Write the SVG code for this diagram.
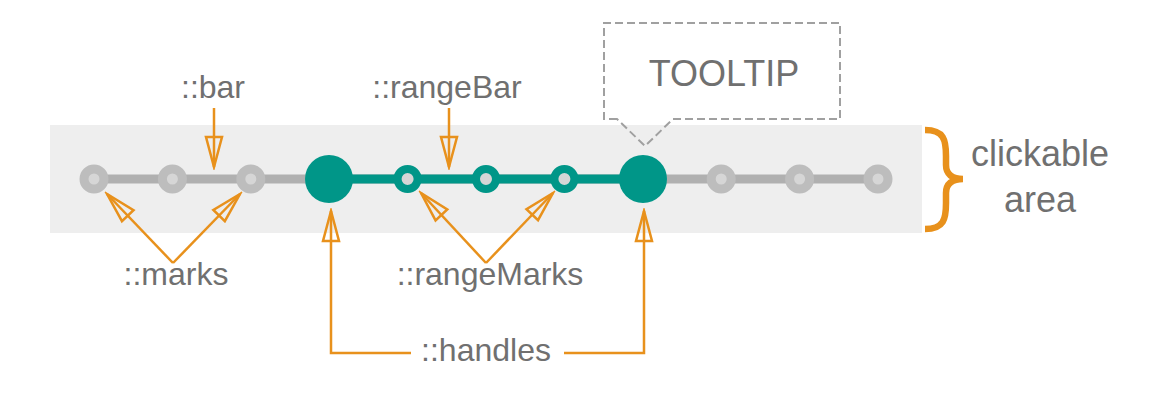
<svg xmlns="http://www.w3.org/2000/svg" width="1156" height="400" viewBox="0 0 1156 400">
<style>
.lbl{font-family:"Liberation Sans",Arial,sans-serif;font-size:32px;fill:#707070;text-anchor:middle}
.big{font-size:36px}
.conn{fill:none;stroke:#E8911C;stroke-width:2.5;stroke-linejoin:miter}
.mark{fill:#d6d6d6;stroke:#bdbdbd;stroke-width:9}
.rmark{fill:#d6d6d6;stroke:#009688;stroke-width:8}
.handle{fill:#009688}
</style>
<defs>
<marker id="ah" markerUnits="userSpaceOnUse" viewBox="0 0 36 20" markerWidth="36" markerHeight="20" refX="33" refY="10" orient="auto">
<path d="M33,10 L3,2 L3,18 Z" fill="none" stroke="#E8911C" stroke-width="2.5" stroke-linejoin="miter"/>
</marker>
</defs>
<rect width="1156" height="400" fill="#ffffff"/>
<g id="clickable-area">
<rect x="50" y="125" width="872" height="108" fill="#eeeeee"/>
<path d="M925,130 C944,130 946,140 946,156 L946,165 C946,174 952,179 963,179 C952,179 946,184 946,193 L946,203 C946,219 944,229 925,229" fill="none" stroke="#E8911C" stroke-width="6.5"/>
<text class="lbl big" x="1040" y="166">clickable</text>
<text class="lbl big" x="1040" y="212">area</text>
</g>
<g id="bar">
<line x1="94" y1="179" x2="878" y2="179" stroke="#b0b0b0" stroke-width="9"/>
</g>
<g id="rangeBar">
<line x1="329" y1="179" x2="643" y2="179" stroke="#009688" stroke-width="9"/>
</g>
<g id="marks">
<circle class="mark" cx="94" cy="179" r="10"/>
<circle class="mark" cx="172.4" cy="179" r="10"/>
<circle class="mark" cx="250.8" cy="179" r="10"/>
<circle class="mark" cx="721.2" cy="179" r="10"/>
<circle class="mark" cx="799.6" cy="179" r="10"/>
<circle class="mark" cx="878" cy="179" r="10"/>
</g>
<g id="rangeMarks">
<circle class="rmark" cx="407.6" cy="179" r="10"/>
<circle class="rmark" cx="486" cy="179" r="10"/>
<circle class="rmark" cx="564.4" cy="179" r="10"/>
</g>
<g id="handles">
<circle class="handle" cx="329" cy="179" r="24"/>
<circle class="handle" cx="643" cy="179" r="24"/>
</g>
<g id="tooltip">
<path d="M617,119 L604,119 L604,23 L840,23 L840,119 L673,119 L645,146 Z" fill="none" stroke="#a0a0a0" stroke-width="2" stroke-dasharray="8,4"/>
<text class="lbl big" x="724" y="86">TOOLTIP</text>
</g>
<g id="labels">
<text class="lbl" x="213" y="98">::bar</text>
<text class="lbl" x="447" y="98">::rangeBar</text>
<text class="lbl" x="176" y="285">::marks</text>
<text class="lbl" x="490" y="285">::rangeMarks</text>
<text class="lbl" x="486" y="361">::handles</text>
</g>
<g id="connectors">
<line class="conn" x1="214" y1="108" x2="214" y2="167" marker-end="url(#ah)"/>
<line class="conn" x1="449" y1="108" x2="449" y2="167" marker-end="url(#ah)"/>
<polyline class="conn" points="173,263 107,194" marker-end="url(#ah)"/>
<polyline class="conn" points="173,263 240,194" marker-end="url(#ah)"/>
<polyline class="conn" points="486,263 421,193" marker-end="url(#ah)"/>
<polyline class="conn" points="486,263 553,193" marker-end="url(#ah)"/>
<polyline class="conn" points="411,353 331,353 331,211" marker-end="url(#ah)"/>
<polyline class="conn" points="564,353 644,353 644,211" marker-end="url(#ah)"/>
</g>
</svg>
